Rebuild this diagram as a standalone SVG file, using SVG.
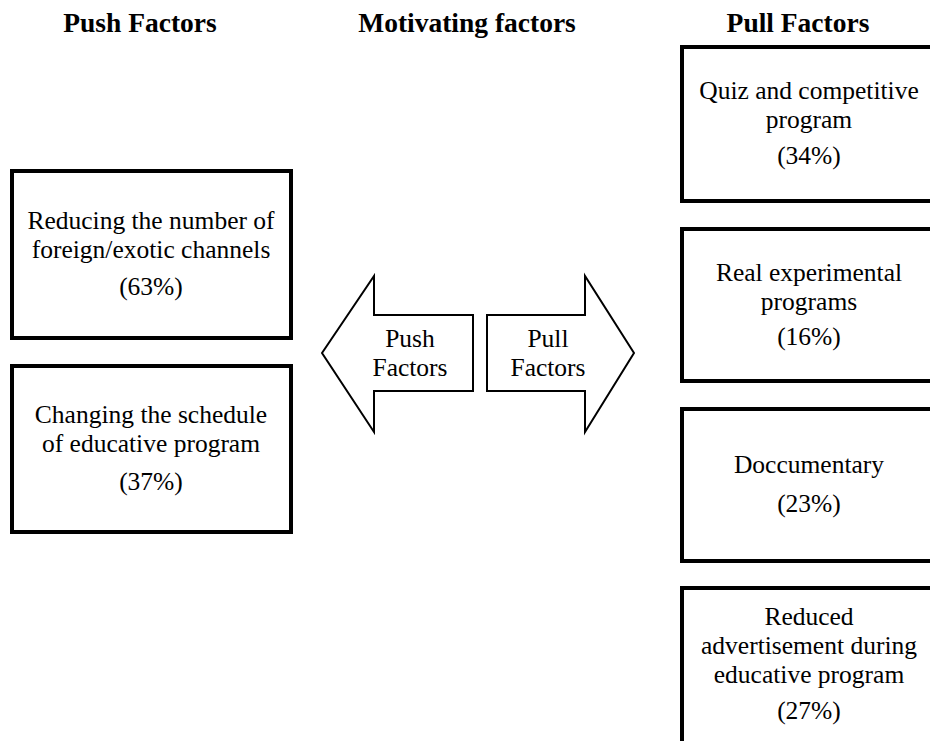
<svg xmlns="http://www.w3.org/2000/svg" width="930" height="741" viewBox="0 0 930 741">
<style>
.box{fill:#fff;stroke:#000;stroke-width:4}
.arr{fill:#fff;stroke:#000;stroke-width:2;stroke-linejoin:miter}
text{font-family:"Liberation Serif","Times New Roman",serif;fill:#000;text-anchor:middle}
.t{font-size:25.5px}
.a{font-size:25.5px}
.h{font-size:27.5px;font-weight:bold}
</style>
<rect width="930" height="741" fill="#fff"/>
<g id="headers">
<text class="h" x="140" y="32">Push Factors</text>
<text class="h" x="467" y="32">Motivating factors</text>
<text class="h" x="798" y="32">Pull Factors</text>
</g>
<g id="connectors">
<g id="push-arrow">
<polygon class="arr" points="322,353 374,276 374,315 473,315 473,391 374,391 374,432"/>
<text class="a" x="410" y="347">Push</text>
<text class="a" x="410" y="376">Factors</text>
</g>
<g id="pull-arrow">
<polygon class="arr" points="487,315 585,315 585,276 634,353 585,432 585,391 487,391"/>
<text class="a" x="548" y="347">Pull</text>
<text class="a" x="548" y="376">Factors</text>
</g>
</g>
<g id="push1">
<rect class="box" x="12" y="171" width="279" height="167"/>
<text class="t" x="151" y="229">Reducing the number of</text>
<text class="t" x="151" y="258">foreign/exotic channels</text>
<text class="t" x="151" y="295">(63%)</text>
</g>
<g id="push2">
<rect class="box" x="12" y="366" width="279" height="166"/>
<text class="t" x="151" y="423">Changing the schedule</text>
<text class="t" x="151" y="452">of educative program</text>
<text class="t" x="151" y="490">(37%)</text>
</g>
<g id="pull1">
<rect class="box" x="682" y="47" width="260" height="154"/>
<text class="t" x="809" y="99">Quiz and competitive</text>
<text class="t" x="809" y="128">program</text>
<text class="t" x="809" y="164">(34%)</text>
</g>
<g id="pull2">
<rect class="box" x="682" y="229" width="260" height="152"/>
<text class="t" x="809" y="281">Real experimental</text>
<text class="t" x="809" y="310">programs</text>
<text class="t" x="809" y="345">(16%)</text>
</g>
<g id="pull3">
<rect class="box" x="682" y="409" width="260" height="152"/>
<text class="t" x="809" y="473">Doccumentary</text>
<text class="t" x="809" y="512">(23%)</text>
</g>
<g id="pull4">
<rect class="box" x="682" y="588" width="260" height="200"/>
<text class="t" x="809" y="625">Reduced</text>
<text class="t" x="809" y="654">advertisement during</text>
<text class="t" x="809" y="683">educative program</text>
<text class="t" x="809" y="719">(27%)</text>
</g>
</svg>
